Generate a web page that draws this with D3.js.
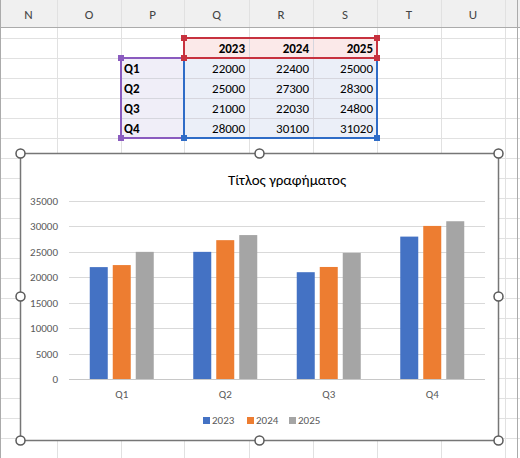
<!DOCTYPE html><html><head><meta charset="utf-8"><script src="https://cdn.jsdelivr.net/npm/d3@7"></script>
<style>body{margin:0;background:#fff}svg{font-family:Calibri,Carlito,"Liberation Sans",sans-serif}</style></head><body>
<svg id="s" width="520" height="458"></svg>
<script>
const colLetters=["N","O","P","Q","R","S","T","U"];
const colEdges=[0,57,121,184,249,313,377,441,505];
const years=["2023","2024","2025"];
const quarters=["Q1","Q2","Q3","Q4"];
const v2023=[22000,25000,21000,28000];
const v2024=[22400,27300,22030,30100];
const v2025=[25000,28300,24800,31020];
const series=[v2023,v2024,v2025];
const colors=["#4472C4","#ED7D31","#A5A5A5"];
const yTicks=[0,5000,10000,15000,20000,25000,30000,35000];
const svg=d3.select("#s");
// sheet
svg.append("rect").attr("x",0).attr("y",0).attr("width",520).attr("height",27).attr("fill","#f0f0f0");
for(let y=38;y<458;y+=20)svg.append("line").attr("x1",0).attr("x2",520).attr("y1",y+.5).attr("y2",y+.5).attr("stroke","#e1e1e1");
colEdges.slice(1).forEach(x=>{svg.append("line").attr("x1",x+.5).attr("x2",x+.5).attr("y1",0).attr("y2",458).attr("stroke","#e1e1e1");});
svg.append("line").attr("x1",0).attr("x2",520).attr("y1",27.5).attr("y2",27.5).attr("stroke","#ababab");
svg.append("line").attr("x1",517.5).attr("x2",517.5).attr("y1",0).attr("y2",458).attr("stroke","#ababab");
svg.append("line").attr("x1",0.5).attr("x2",0.5).attr("y1",0).attr("y2",458).attr("stroke","#ababab");
colLetters.forEach((c,i)=>svg.append("text").attr("x",(colEdges[i]+colEdges[i+1])/2).attr("y",19).attr("text-anchor","middle").attr("font-size",13).attr("fill","#444").text(c));
// table fills
svg.append("rect").attr("x",184).attr("y",38).attr("width",193).attr("height",20).attr("fill","#fbe9e9");
svg.append("rect").attr("x",121).attr("y",58).attr("width",63).attr("height",80).attr("fill","#f0eef8");
svg.append("rect").attr("x",184).attr("y",58).attr("width",193).attr("height",80).attr("fill","#ebeff8");
[249,313].forEach(x=>svg.append("line").attr("x1",x+.5).attr("x2",x+.5).attr("y1",38).attr("y2",138).attr("stroke","#d6d6de"));
[58,78,98,118].forEach(y=>svg.append("line").attr("x1",121).attr("x2",377).attr("y1",y+.5).attr("y2",y+.5).attr("stroke","#d6d6de"));
years.forEach((yr,j)=>svg.append("text").attr("x",colEdges[j+4]-4).attr("y",53).attr("text-anchor","end").attr("font-weight","bold").attr("font-size",13).text(yr));
quarters.forEach((q,i)=>{
 svg.append("text").attr("x",124).attr("y",73+i*20).attr("font-weight","bold").attr("font-size",13).text(q);
 series.forEach((s,j)=>svg.append("text").attr("x",colEdges[j+4]-4).attr("y",73+i*20).attr("text-anchor","end").attr("font-size",13).text(s[i]));
});
function selBox(x,y,w,h,c){svg.append("rect").attr("x",x).attr("y",y).attr("width",w).attr("height",h).attr("fill","none").attr("stroke",c).attr("stroke-width",2);
 [[x,y],[x+w,y],[x,y+h],[x+w,y+h]].forEach(p=>svg.append("rect").attr("x",p[0]-3).attr("y",p[1]-3).attr("width",6).attr("height",6).attr("fill",c));}
selBox(121,58,63,80,"#8a5bbf");
selBox(184,58,193,80,"#2f6cc7");
selBox(184,38,193,20,"#c7323f");
// chart
svg.append("rect").attr("x",20.5).attr("y",153.5).attr("width",478).attr("height",287).attr("fill","#fff").attr("stroke","#767676").attr("stroke-width",1.5);
const x0=d3.scaleBand().domain(quarters).range([70,484]);
const y=d3.scaleLinear().domain([0,35000]).range([379,201]);
const g=svg.append("g");
yTicks.forEach(t=>{g.append("line").attr("x1",69).attr("x2",485).attr("y1",Math.round(y(t))+.5).attr("y2",Math.round(y(t))+.5).attr("stroke",t?"#d9d9d9":"#c8c8c8");
 g.append("text").attr("x",58).attr("y",y(t)+4).attr("text-anchor","end").attr("font-size",11).attr("fill","#595959").text(t);});
const bw=18,gap=5;
quarters.forEach((q,i)=>{const c=x0(q)+x0.bandwidth()/2;
 series.forEach((s,j)=>g.append("rect").attr("x",c-bw*1.5-gap+j*(bw+gap)).attr("y",y(s[i])).attr("width",bw).attr("height",y(0)-y(s[i])).attr("fill",colors[j]));
 g.append("text").attr("x",c).attr("y",398).attr("text-anchor","middle").attr("font-size",11).attr("fill","#595959").text(q);});
svg.append("text").attr("x",287).attr("y",185).attr("text-anchor","middle").attr("font-size",15).attr("fill","#000").text("Τίτλος γραφήματος");
const lx=[203,247,289];
years.forEach((yr,j)=>{svg.append("rect").attr("x",lx[j]).attr("y",417).attr("width",7).attr("height",7).attr("fill",colors[j]);
 svg.append("text").attr("x",lx[j]+9).attr("y",424).attr("font-size",11).attr("fill","#595959").text(yr);});
[[20,153],[259,153],[498,153],[20,296],[498,296],[20,440],[259,440],[498,440]].forEach(p=>svg.append("circle").attr("cx",p[0]+.5).attr("cy",p[1]+.5).attr("r",4.5).attr("fill","#fff").attr("stroke","#595959").attr("stroke-width",1.5));
</script></body></html>
